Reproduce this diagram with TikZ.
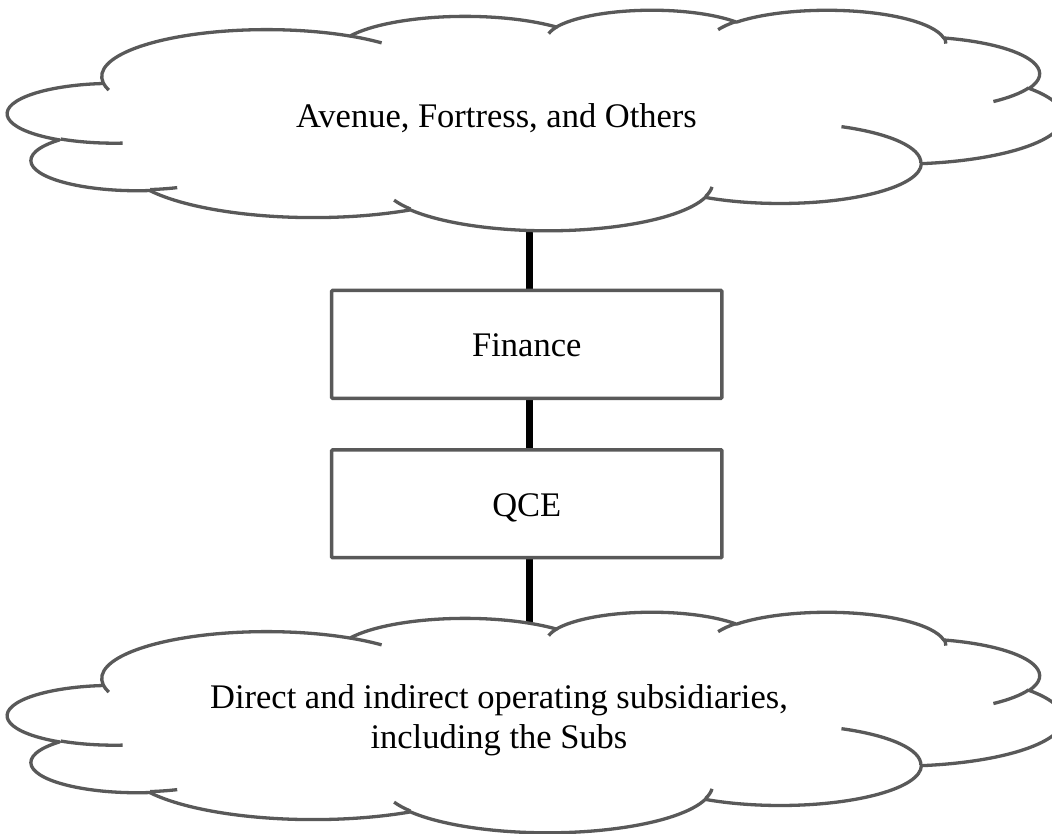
\documentclass[tikz,border=0pt]{standalone}
\usepackage{fontspec}
\setmainfont{Liberation Serif}
\definecolor{cloudgray}{RGB}{89,89,89}
\pgfdeclarelayer{background}
\pgfsetlayers{background,main}

% cloud geometry (Office "cloud" preset), box in px: left, top, width, height
% move coordinates are given in hundredths of the 43200-unit path space
\def\cL{8}\def\cT{9.5}\def\cW{1055}\def\cH{220.5}
\newcommand\cldmove[2]{%
  \pgfmathsetmacro\cldx{\cL+#1/432*\cW}%
  \pgfmathsetmacro\cldy{-1*(\cT+#2/432*\cH)}%
  \pgfpathmoveto{\pgfpoint{\cldx pt}{\cldy pt}}}
\newcommand\cldarc[4]{%
  \pgfmathsetmacro\clda{atan2(#1*sin(#3),#2*cos(#3))}%
  \pgfmathsetmacro\cldb{atan2(#1*sin(#3+#4),#2*cos(#3+#4))}%
  \pgfmathsetmacro\cldb{(\cldb<\clda) ? (\cldb+360) : \cldb}%
  \pgfmathsetmacro\cldrx{#1/432/100*\cW}%
  \pgfmathsetmacro\cldry{#2/432/100*\cH}%
  \pgfmathsetmacro\cldsa{-1*(\clda)}%
  \pgfmathsetmacro\cldea{-1*(\cldb)}%
  \pgfpatharc{\cldsa}{\cldea}{\cldrx pt and \cldry pt}}
\newcommand\drawcloudshape{%
  \begin{pgfscope}
  \pgfsetlinewidth{3.3pt}%
  \pgfsetstrokecolor{cloudgray}%
  \pgfsetfillcolor{white}%
  \pgfsetroundjoin
  \cldmove{39.00}{143.70}%
  \cldarc{6753}{9190}{-190.4875}{123.7805}%
  \cldarc{5333}{7267}{-144.1024}{89.9452}%
  \cldarc{4365}{5945}{-145.8079}{99.7230}%
  \cldarc{4857}{6595}{-130.9861}{117.2417}%
  \cldarc{5333}{7273}{-78.7089}{109.0269}%
  \cldarc{6775}{9220}{-46.2673}{130.2690}%
  \cldarc{5785}{7867}{0.6250}{114.0333}%
  \cldarc{6752}{9215}{22.4516}{115.1726}%
  \cldarc{7720}{10543}{66.2426}{75.7110}%
  \cldarc{4360}{5918}{-274.9421}{146.7356}%
  \cldarc{4345}{5945}{-246.8285}{152.5189}%
  \pgfpathclose
  \pgfusepath{fill,stroke}%
  \cldmove{46.93}{261.77}\cldarc{4345}{5945}{86.7420}{26.4295}%
  \cldmove{69.28}{348.99}\cldarc{4360}{5918}{73.6105}{11.4475}%
  \cldmove{164.78}{390.90}\cldarc{6752}{9215}{137.6242}{14.0811}%
  \cldmove{288.27}{347.51}\cldarc{6752}{9215}{6.4533}{15.9984}%
  \cldmove{341.29}{229.54}\cldarc{5785}{7867}{-70.2924}{70.9174}%
  \cldmove{417.98}{153.54}\cldarc{5333}{7273}{30.3180}{27.7515}%
  \cldmove{383.24}{54.26}\cldarc{4857}{6595}{-13.7443}{14.8589}%
  \cldmove{290.78}{39.52}\cldarc{4857}{6595}{-149.1815}{18.1954}%
  \cldmove{221.41}{47.20}\cldarc{4365}{5945}{-163.4943}{17.6864}%
  \cldmove{140.00}{51.92}\cldarc{6753}{9190}{-66.7070}{12.3194}%
  \cldmove{41.27}{157.89}\cldarc{6753}{9190}{157.6544}{11.8582}%
  \pgfusepath{stroke}%
  \end{pgfscope}}

\tikzset{
  bigtext/.style={font=\fontsize{34.5pt}{40pt}\selectfont, inner sep=0pt},
  cloudlabel/.style={bigtext, align=center},
  orgbox/.style={bigtext, draw=cloudgray, line width=3.5pt, fill=white,
    rounded corners=1pt, minimum width=390.3pt, minimum height=107.8pt,
    text height=25pt, text depth=0pt},
  conn/.style={draw=black, line width=7pt},
}

\begin{document}
\begin{tikzpicture}
\useasboundingbox (0,0) rectangle (1052pt,-834pt);

% top cloud
\def\cT{9.5}\drawcloudshape
\node[cloudlabel, text height=25pt, text depth=0pt] (avenue) at (496.5pt,-115.5pt)
  {Avenue, Fortress, and Others};

% bottom cloud
\def\cT{611.5}\drawcloudshape
\node[cloudlabel] (subs) at (499pt,-720pt)
  {Direct and indirect operating subsidiaries,\\including the Subs};

% boxes
\node[orgbox] (finance) at (526.8pt,-344.4pt) {Finance};
\node[orgbox] (qce) at (526.8pt,-503.8pt) {QCE};

% connectors (under the shapes)
\begin{pgfonlayer}{background}
\draw[conn] ([xshift=3pt]finance.north) -- ([xshift=3pt]finance.north |- avenue.south);
\draw[conn] ([xshift=3pt]finance.south) -- ([xshift=3pt]qce.north);
\draw[conn] ([xshift=3pt]qce.south) -- ([xshift=3pt]qce.south |- subs.north);
\end{pgfonlayer}
\end{tikzpicture}
\end{document}
